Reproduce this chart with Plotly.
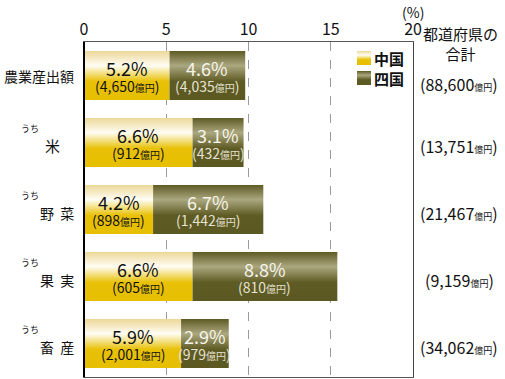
import plotly.graph_objects as go

categories = ["農業産出額", "米", "野&nbsp;&nbsp;菜", "果&nbsp;&nbsp;実", "畜&nbsp;&nbsp;産"]
has_uchi = [False, True, True, True, True]
chugoku_pct = [5.2, 6.6, 4.2, 6.6, 5.9]
shikoku_pct = [4.6, 3.1, 6.7, 8.8, 2.9]
chugoku_amt = ["4,650", "912", "898", "605", "2,001"]
shikoku_amt = ["4,035", "432", "1,442", "810", "979"]
total_amt = ["88,600", "13,751", "21,467", "9,159", "34,062"]
x_ticks = [0, 5, 10, 15, 20]
series_names = ["中国", "四国"]

FONT = "Noto Sans CJK JP"
HALF = 0.365


def flip(scale):
    return [[1 - p, c] for p, c in reversed(scale)]


chu_scale = flip([[0, "#EDD898"], [0.3, "#FFFDF4"], [0.62, "#E8C108"], [1, "#E6BF00"]])
shi_scale = flip([[0, "#5F5B25"], [0.3, "#ABA77F"], [0.62, "#5F5B24"], [1, "#5C5822"]])

fig = go.Figure()


def bar_poly(x0, x1, yc, scale):
    ys = [yc - HALF, yc - HALF, yc + HALF, yc + HALF, yc - HALF]
    xs = [x0, x1, x1, x0, x0]
    fig.add_trace(go.Scatter(
        x=xs, y=ys, fill="toself", mode="none", showlegend=False,
        fillgradient=dict(type="vertical", colorscale=scale),
        hoverinfo="skip"))


for i in range(len(categories)):
    c = chugoku_pct[i]
    s = shikoku_pct[i]
    bar_poly(0, c, i, chu_scale)
    bar_poly(c, c + s, i, shi_scale)

ann = []
for i in range(len(categories)):
    c = chugoku_pct[i]
    s = shikoku_pct[i]
    # 中国 labels
    ann.append(dict(x=c / 2, y=i, xref="x", yref="y", showarrow=False,
                    text=f"{c:.1f}%", font=dict(family=FONT, size=18, color="#111"),
                    yshift=8))
    ann.append(dict(x=c / 2, y=i, xref="x", yref="y", showarrow=False,
                    text=f"({chugoku_amt[i]}<span style='font-size:10px'>億円</span>)",
                    font=dict(family=FONT, size=14, color="#111"), yshift=-10))
    # 四国 labels
    ann.append(dict(x=c + s / 2, y=i, xref="x", yref="y", showarrow=False,
                    text=f"{s:.1f}%", font=dict(family=FONT, size=18, color="#F6F5EA"),
                    yshift=8))
    ann.append(dict(x=c + s / 2, y=i, xref="x", yref="y", showarrow=False,
                    text=f"({shikoku_amt[i]}<span style='font-size:10px'>億円</span>)",
                    font=dict(family=FONT, size=14, color="#E4E2D2"), yshift=-10))
    # left labels
    if i == 1:
        ann.append(dict(x=-0.095, y=i, xref="paper", yref="y", showarrow=False,
                        xanchor="center", text=categories[i],
                        font=dict(family=FONT, size=15, color="#111"), yshift=-3))
    else:
        ann.append(dict(x=-0.024, y=i, xref="paper", yref="y", showarrow=False,
                        xanchor="right", text=categories[i],
                        font=dict(family=FONT, size=14, color="#111"),
                        yshift=0 if not has_uchi[i] else -3))
    if has_uchi[i]:
        ann.append(dict(x=-0.165, y=i, xref="paper", yref="y", showarrow=False,
                        xanchor="center", text="うち",
                        font=dict(family=FONT, size=9, color="#111"), yshift=14))
    # right totals
    ann.append(dict(x=1.14, y=i, xref="paper", yref="y", showarrow=False,
                    xanchor="center",
                    text=f"({total_amt[i]}<span style='font-size:9px'>億円</span>)",
                    font=dict(family=FONT, size=16, color="#111"),
                    yshift=-8 if i == 0 else -3))

ann.append(dict(x=1.145, y=1.062, xref="paper", yref="paper", showarrow=False,
                xanchor="center", yanchor="top", text="都道府県の<br>合計",
                font=dict(family=FONT, size=15, color="#111")))
ann.append(dict(x=1.0, y=1.09, xref="paper", yref="paper", showarrow=False,
                xanchor="center", yanchor="middle", text="(%)",
                font=dict(family=FONT, size=14, color="#111")))

# legend (drawn in a pixel-like overlay axis)
leg_scales = [chu_scale, shi_scale]
for k, nm in enumerate(series_names):
    y0 = 9 + k * 20
    fig.add_trace(go.Scatter(
        x=[273, 287, 287, 273, 273], y=[y0, y0, y0 + 14, y0 + 14, y0],
        xaxis="x2", yaxis="y2", fill="toself", mode="none", showlegend=False,
        fillgradient=dict(type="vertical", colorscale=leg_scales[k]), hoverinfo="skip"))
    ann.append(dict(x=288, y=y0 + 7, xref="x2", yref="y2", showarrow=False,
                    xanchor="left", text=f"<b>{nm}</b>",
                    font=dict(family=FONT, size=15, color="#111")))

fig.update_layout(
    width=505, height=379,
    margin=dict(l=84, r=92, t=42, b=2),
    paper_bgcolor="white", plot_bgcolor="white",
    showlegend=False,
    annotations=ann,
    xaxis=dict(range=[0, 20], side="top", tickvals=x_ticks, ticktext=[str(v) for v in x_ticks],
               showgrid=True, gridcolor="#9a9a9a", griddash="dash", gridwidth=1,
               zeroline=False, showline=True, mirror=True, linecolor="#555", linewidth=1,
               ticks="", tickfont=dict(family=FONT, size=16, color="#111"),
               fixedrange=True),
    yaxis=dict(range=[4.5, -0.5], showgrid=False, zeroline=False, showticklabels=False,
               showline=True, mirror=True, linecolor="#444", linewidth=1, ticks="",
               fixedrange=True),
    xaxis2=dict(overlaying="x", range=[0, 329], visible=False, fixedrange=True),
    yaxis2=dict(overlaying="y", range=[335, 0], visible=False, fixedrange=True),
    shapes=[dict(type="line", xref="paper", yref="paper", x0=0, x1=0, y0=0, y1=1,
                 line=dict(color="#000", width=2))],
)

fig.write_html("out.html")
